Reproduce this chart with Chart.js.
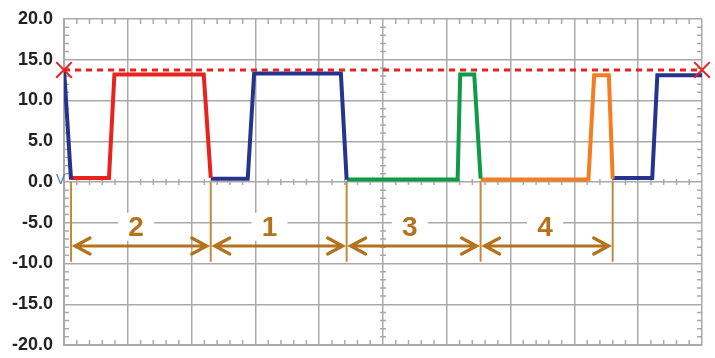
<!DOCTYPE html>
<html>
<head>
<meta charset="utf-8">
<script src="https://cdn.jsdelivr.net/npm/chart.js@4.4.1/dist/chart.umd.min.js"></script>
<style>
  html, body { margin: 0; padding: 0; background: #fff; }
  #wrap { width: 715px; height: 358px; }
</style>
</head>
<body>
<div id="wrap"><canvas id="scope"></canvas></div>
<script>
// waveform segments, x in screen divisions (0..10), y in volts
const blue1 = [[0, 13.9], [0.11, 0.3]];
const red = [[0.11, 0.5], [0.705, 0.5], [0.79, 13.2], [2.19, 13.2], [2.30, 0.5]];
const blue2 = [[2.30, 0.4], [2.88, 0.4], [2.98, 13.3], [4.34, 13.3], [4.43, 0.3]];
const green = [[4.43, 0.3], [6.17, 0.3], [6.21, 13.2], [6.43, 13.2], [6.53, 0.4]];
const orange = [[6.53, 0.3], [8.22, 0.3], [8.31, 13.1], [8.54, 13.1], [8.60, 0.4]];
const blue3 = [[8.60, 0.5], [9.22, 0.5], [9.30, 13.1], [10, 13.1]];

// peak reference level
const peakLevel = 13.75;

// interval markers
const boundaries = [0.11, 2.30, 4.43, 6.53, 8.60];
const intervalLabels = ['2', '1', '3', '4'];
const labelX = [1.13, 3.22, 5.42, 7.54];
const labelY = -5.5;
const arrowY = -7.85;
const markerBottom = -9.8;

const yTicks = [-20, -15, -10, -5, 0, 5, 10, 15, 20];

const brown = '#b3721c';
const gridGray = '#a9a9a9';

function pts(arr) { return arr.map(p => ({ x: p[0], y: p[1] })); }

function trace(data, color) {
    return {
        data: pts(data),
        borderColor: color,
        borderWidth: 4,
        pointRadius: 0,
        tension: 0,
        borderJoinStyle: 'miter'
    };
}

// minor ticks on the borders and on the centre lines, like a scope graticule
const graticule = {
    id: 'graticule',
    beforeDatasetsDraw(chart) {
        const { ctx, chartArea: a, scales: { x, y } } = chart;
        const cx = x.getPixelForValue(5);
        const cy = y.getPixelForValue(0);
        ctx.save();
        ctx.strokeStyle = gridGray;
        ctx.lineWidth = 1.5;
        ctx.beginPath();
        for (let i = 1; i < 50; i++) {
            if (i % 5 === 0) continue;
            const px = x.getPixelForValue(i / 5);
            ctx.moveTo(px, a.top); ctx.lineTo(px, a.top + 5);
            ctx.moveTo(px, a.bottom); ctx.lineTo(px, a.bottom - 5);
            ctx.moveTo(px, cy - 3); ctx.lineTo(px, cy + 3);
        }
        for (let v = -19; v < 20; v++) {
            if (v % 5 === 0) continue;
            const py = y.getPixelForValue(v);
            ctx.moveTo(a.left, py); ctx.lineTo(a.left + 5, py);
            ctx.moveTo(a.right, py); ctx.lineTo(a.right - 5, py);
            ctx.moveTo(cx - 3, py); ctx.lineTo(cx + 3, py);
        }
        ctx.stroke();

        // interval dimension lines
        const yTop = y.getPixelForValue(0);
        const yBot = y.getPixelForValue(markerBottom);
        ctx.strokeStyle = '#c48a3c';
        ctx.lineWidth = 2;
        ctx.beginPath();
        boundaries.forEach(b => {
            const px = x.getPixelForValue(b);
            ctx.moveTo(px, yTop); ctx.lineTo(px, yBot);
        });
        ctx.stroke();

        const ay = y.getPixelForValue(arrowY);
        ctx.strokeStyle = brown;
        ctx.lineWidth = 3.2;
        ctx.lineCap = 'round';
        for (let i = 0; i < boundaries.length - 1; i++) {
            const x1 = x.getPixelForValue(boundaries[i]) + 4;
            const x2 = x.getPixelForValue(boundaries[i + 1]) - 4;
            ctx.beginPath();
            ctx.moveTo(x1, ay); ctx.lineTo(x2, ay);
            ctx.moveTo(x1 + 15, ay - 8); ctx.lineTo(x1, ay); ctx.lineTo(x1 + 15, ay + 8);
            ctx.moveTo(x2 - 15, ay - 8); ctx.lineTo(x2, ay); ctx.lineTo(x2 - 15, ay + 8);
            ctx.stroke();
        }

        ctx.font = 'bold 28px "Liberation Sans", Arial, sans-serif';
        ctx.textAlign = 'center';
        ctx.textBaseline = 'middle';
        const ly = y.getPixelForValue(labelY);
        intervalLabels.forEach((t, i) => {
            const px = x.getPixelForValue(labelX[i]);
            ctx.fillStyle = '#fff';
            ctx.fillRect(px - 18, ly - 14, 36, 28);
            ctx.fillStyle = brown;
            ctx.fillText(t, px, ly + 1);
        });

        // ground marker beside 0.0
        ctx.font = '14px "Liberation Sans", Arial, sans-serif';
        ctx.fillStyle = '#3f7cc4';
        ctx.textAlign = 'left';
        ctx.fillText('V', a.left - 8, cy - 2);
        ctx.restore();
    }
};

const ctx = document.getElementById('scope').getContext('2d');
new Chart(ctx, {
    type: 'line',
    data: {
        datasets: [
            {
                data: [{ x: 0, y: peakLevel }, { x: 10, y: peakLevel }],
                borderColor: '#e8231e',
                borderWidth: 3,
                borderDash: [6, 5],
                pointStyle: 'crossRot',
                pointRadius: 11,
                pointBorderWidth: 2,
                pointBorderColor: '#e8231e',
                clip: false
            },
            trace(blue1, '#27348f'),
            trace(red, '#e8231e'),
            trace(blue2, '#27348f'),
            trace(green, '#0f9a47'),
            trace(orange, '#f47d20'),
            trace(blue3, '#27348f')
        ]
    },
    options: {
        responsive: true,
        maintainAspectRatio: false,
        animation: false,
        layout: { padding: { left: 0, top: 19, right: 13, bottom: 6 } },
        plugins: { legend: { display: false }, tooltip: { enabled: false } },
        scales: {
            x: {
                type: 'linear',
                min: 0,
                max: 10,
                ticks: { stepSize: 1, display: false },
                grid: { color: gridGray, lineWidth: 1.5, drawTicks: false },
                border: { color: gridGray, width: 2 },
                afterFit(s) { s.height = 0; }
            },
            y: {
                min: -20,
                max: 20,
                afterBuildTicks(s) { s.ticks = yTicks.map(v => ({ value: v })); },
                ticks: {
                    padding: 11,
                    color: '#222',
                    font: { family: '"Liberation Sans", Arial, sans-serif', size: 18, weight: 'bold' },
                    callback: v => v.toFixed(1)
                },
                grid: { color: gridGray, lineWidth: 1.5, drawTicks: false },
                border: { color: gridGray, width: 2 },
                afterFit(s) { s.width = 64; s.paddingTop = 0; s.paddingBottom = 0; }
            }
        }
    },
    plugins: [graticule]
});
</script>
</body>
</html>
